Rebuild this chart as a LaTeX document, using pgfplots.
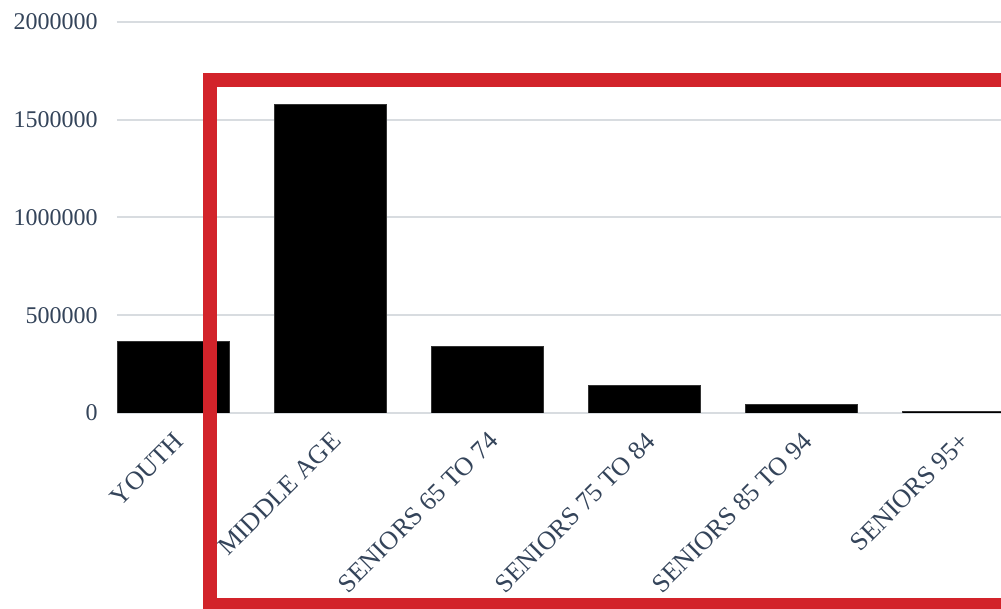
\documentclass[border=0pt]{standalone}
\usepackage{pgfplots}
\pgfplotsset{compat=1.18}
\usepackage{fontspec}
\setmainfont{Liberation Serif}
\definecolor{txt}{HTML}{34445A}
\definecolor{gridc}{HTML}{D8DCE0}
\definecolor{redbox}{HTML}{D2232A}
\begin{document}
\begin{tikzpicture}
\begin{axis}[
  scale only axis,
  width=442pt, height=195.5pt,
  xmin=-0.357, xmax=5.27,
  ymin=0, ymax=2000000,
  axis line style={draw=none},
  ytick={0,500000,1000000,1500000,2000000},
  ymajorgrids=true, xmajorgrids=false,
  grid style={draw=gridc, line width=1pt},
  major tick length=0pt,
  scaled y ticks=false,
  /pgf/number format/assume math mode=true,
  yticklabel={\pgfmathprintnumber[fixed,1000 sep={}]{\tick}},
  yticklabel style={font=\fontsize{12}{14}\selectfont, text=txt, anchor=east, inner sep=0pt, xshift=-9.5pt},
  xtick=data,
  xticklabels={YOUTH, MIDDLE AGE, SENIORS 65 TO 74, SENIORS 75 TO 84, SENIORS 85 TO 94, SENIORS 95+},
  xticklabel style={font=\fontsize{13}{15}\selectfont, text=txt, inner sep=0pt, xshift=0pt, yshift=-8.5pt, rotate=45, anchor=north east},
  ybar, bar width=56pt,
]
\addplot[fill=black, draw=black!80, line width=0.4pt] coordinates {
  (0,365000) (1,1580000) (2,340000) (3,143000) (4,46000) (5,6000)
};
\end{axis}
\draw[redbox, line width=7pt] (450pt,166.25pt) -- (46.5pt,166.25pt) -- (46.5pt,-96.25pt) -- (450pt,-96.25pt);
\pgfresetboundingbox
\path[use as bounding box] (-58.5pt,-98pt) rectangle (442pt,206.5pt);
\end{tikzpicture}
\end{document}
